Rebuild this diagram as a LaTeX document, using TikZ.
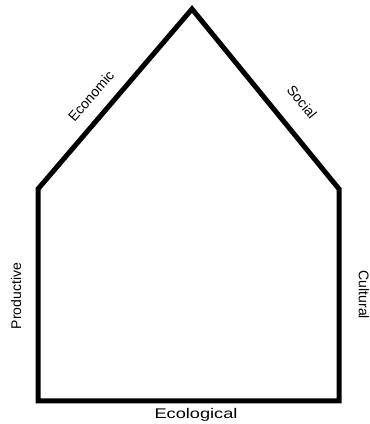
\documentclass[tikz,border=0pt]{standalone}
\usepackage{fontspec}
\setmainfont{Liberation Sans}
\usepackage{tikz}
\usetikzlibrary{positioning,calc}

\begin{document}
\begin{tikzpicture}[
  x=1pt, y=1pt,
  wall/.style={draw, line width=5pt, line join=miter},
  side/.style={font=\fontsize{14}{16}\selectfont, inner sep=1pt},
  base/.style={side, xscale=1.3}
]

\useasboundingbox (0,0) rectangle (370,424);

% corners of the house
\coordinate (top) at (192,415);
\coordinate (lsh) at (38,235);
\coordinate (rsh) at (339,235);
\coordinate (lbot) at (38,23);
\coordinate (rbot) at (339,23);

\draw[wall] (top) -- (rsh) -- (rbot) -- (lbot) -- (lsh) -- cycle;

% dimensions
\node[side, rotate=49] (econ) at (91,328) {Economic};
\node[side, rotate=-51] (soc) at (302,322) {Social};
\node[side, rotate=90] (prod) at (16,128) {Productive};
\node[side, rotate=-90] (cult) at (364,129) {Cultural};
\node[base] (eco) at (196,9) {Ecological};

\end{tikzpicture}
\end{document}
